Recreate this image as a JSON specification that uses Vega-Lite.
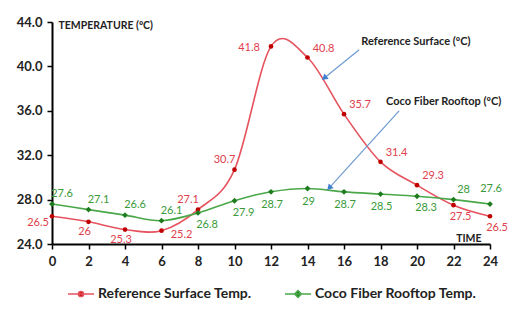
{
  "$schema": "https://vega.github.io/schema/vega-lite/v6.json",
  "width": 438,
  "height": 222,
  "autosize": {"type": "none"},
  "padding": {"left": 52, "top": 22, "right": 18, "bottom": 69},
  "background": "white",
  "config": {
    "view": {"stroke": null},
    "font": "Lato",
    "axis": {"grid": false, "domainColor": "#000", "domainWidth": 2, "tickColor": "#000", "tickWidth": 1.5, "tickSize": 5,
             "labelFont": "Lato", "labelFontWeight": "bold", "labelFontSize": 13, "labelColor": "#222",
             "titleFont": "Lato", "titleFontWeight": "bold", "titleFontSize": 10.5, "titleColor": "#222"}
  },
  "datasets": {
    "temps": [
      {"hour": 0, "series": "Reference Surface Temp.", "temp": 26.5},
      {"hour": 2, "series": "Reference Surface Temp.", "temp": 26},
      {"hour": 4, "series": "Reference Surface Temp.", "temp": 25.3},
      {"hour": 6, "series": "Reference Surface Temp.", "temp": 25.2},
      {"hour": 8, "series": "Reference Surface Temp.", "temp": 27.1},
      {"hour": 10, "series": "Reference Surface Temp.", "temp": 30.7},
      {"hour": 12, "series": "Reference Surface Temp.", "temp": 41.8},
      {"hour": 14, "series": "Reference Surface Temp.", "temp": 40.8},
      {"hour": 16, "series": "Reference Surface Temp.", "temp": 35.7},
      {"hour": 18, "series": "Reference Surface Temp.", "temp": 31.4},
      {"hour": 20, "series": "Reference Surface Temp.", "temp": 29.3},
      {"hour": 22, "series": "Reference Surface Temp.", "temp": 27.5},
      {"hour": 24, "series": "Reference Surface Temp.", "temp": 26.5},
      {"hour": 0, "series": "Coco Fiber Rooftop Temp.", "temp": 27.6},
      {"hour": 2, "series": "Coco Fiber Rooftop Temp.", "temp": 27.1},
      {"hour": 4, "series": "Coco Fiber Rooftop Temp.", "temp": 26.6},
      {"hour": 6, "series": "Coco Fiber Rooftop Temp.", "temp": 26.1},
      {"hour": 8, "series": "Coco Fiber Rooftop Temp.", "temp": 26.8},
      {"hour": 10, "series": "Coco Fiber Rooftop Temp.", "temp": 27.9},
      {"hour": 12, "series": "Coco Fiber Rooftop Temp.", "temp": 28.7},
      {"hour": 14, "series": "Coco Fiber Rooftop Temp.", "temp": 29},
      {"hour": 16, "series": "Coco Fiber Rooftop Temp.", "temp": 28.7},
      {"hour": 18, "series": "Coco Fiber Rooftop Temp.", "temp": 28.5},
      {"hour": 20, "series": "Coco Fiber Rooftop Temp.", "temp": 28.3},
      {"hour": 22, "series": "Coco Fiber Rooftop Temp.", "temp": 28},
      {"hour": 24, "series": "Coco Fiber Rooftop Temp.", "temp": 27.6}
    ],
    "notes": [
      {"note": "Reference Surface (ºC)", "hour": 16.95, "temp": 42.2},
      {"note": "Coco Fiber Rooftop (ºC)", "hour": 18.3, "temp": 36.8}
    ],
    "arrows": [
      {"name": "ref", "hour": 16.83, "temp": 41.5, "hour2": 14.92, "temp2": 38.95},
      {"name": "coco", "hour": 19.02, "temp": 36.0, "hour2": 15.19, "temp2": 29.05}
    ],
    "heads": [
      {"name": "ref", "hour": 14.92, "temp": 38.95},
      {"name": "coco", "hour": 15.19, "temp": 29.05}
    ]
  },
  "encoding": {
    "x": {"field": "hour", "type": "quantitative",
          "scale": {"domain": [0, 24], "nice": false, "zero": false},
          "axis": {"values": [0,2,4,6,8,10,12,14,16,18,20,22,24], "labelOverlap": false, "labelFlush": false, "labelPadding": 6, "title": "TIME",
                   "titleAlign": "right", "titleBaseline": "alphabetic", "titleX": 429, "titleY": -3, "titleAnchor": null}},
    "y": {"field": "temp", "type": "quantitative",
          "scale": {"domain": [24, 44], "nice": false, "zero": false},
          "axis": {"values": [24,28,32,36,40,44], "format": ".1f", "labelOverlap": false, "labelFlush": false, "labelPadding": 5, "title": "TEMPERATURE (ºC)",
                   "titleAngle": 0, "titleAlign": "left", "titleBaseline": "middle", "titleX": 6, "titleY": 3, "titleAnchor": null}}
  },
  "layer": [
    {
      "data": {"name": "temps"},
      "mark": {"type": "line", "interpolate": "cardinal", "strokeWidth": 1.6},
      "encoding": {
        "color": {"field": "series", "type": "nominal",
                  "scale": {"domain": ["Reference Surface Temp.", "Coco Fiber Rooftop Temp."], "range": ["#e5535f", "#4aa84a"]},
                  "legend": {"orient": "none", "legendX": 15, "legendY": 258, "direction": "horizontal", "title": null,
                             "symbolSize": 676, "labelFont": "Lato", "labelFontWeight": "bold", "labelFontSize": 14,
                             "labelColor": "#222", "labelLimit": 300, "labelOffset": 3, "columnPadding": 30,
                             "symbolStrokeWidth": 1.5,
                             "encode": {"symbols": {"update": {
                               "shape": {"signal": "datum.value === 'Reference Surface Temp.' ? 'M-1,0L1,0M-0.2,0A0.2,0.2,0,1,0,0.2,0A0.2,0.2,0,1,0,-0.2,0Z' : 'M-1,0L1,0M0,-0.26L0.26,0L0,0.26L-0.26,0Z'"},
                               "fill": {"signal": "datum.value === 'Reference Surface Temp.' ? '#c00000' : '#1e7b1e'"},
                               "fillOpacity": {"value": 1},
                               "strokeWidth": {"value": 1.5}}}}}}
      }
    },
    {
      "data": {"name": "temps"},
      "transform": [{"filter": {"field": "series", "equal": "Reference Surface Temp."}}],
      "mark": {"type": "point", "shape": "circle", "filled": true, "size": 22, "color": "#c00000", "opacity": 1}
    },
    {
      "data": {"name": "temps"},
      "transform": [{"filter": {"field": "series", "equal": "Coco Fiber Rooftop Temp."}}],
      "mark": {"type": "point", "shape": "diamond", "filled": true, "size": 34, "color": "#1e7b1e", "opacity": 1}
    },
    {
      "data": {"name": "temps"},
      "transform": [{"filter": {"field": "series", "equal": "Reference Surface Temp."}}, {"filter": {"field": "hour", "oneOf": [0]}}],
      "mark": {"type": "text", "dx": -14, "dy": 7, "color": "#e0404c", "fontSize": 11},
      "encoding": {"text": {"field": "temp"}}
    },
    {
      "data": {"name": "temps"},
      "transform": [{"filter": {"field": "series", "equal": "Reference Surface Temp."}}, {"filter": {"field": "hour", "oneOf": [2, 4]}}],
      "mark": {"type": "text", "dx": -4, "dy": 10, "color": "#e0404c", "fontSize": 11},
      "encoding": {"text": {"field": "temp"}}
    },
    {
      "data": {"name": "temps"},
      "transform": [{"filter": {"field": "series", "equal": "Reference Surface Temp."}}, {"filter": {"field": "hour", "oneOf": [6]}}],
      "mark": {"type": "text", "dx": 20, "dy": 4, "color": "#e0404c", "fontSize": 11},
      "encoding": {"text": {"field": "temp"}}
    },
    {
      "data": {"name": "temps"},
      "transform": [{"filter": {"field": "series", "equal": "Reference Surface Temp."}}, {"filter": {"field": "hour", "oneOf": [8, 10]}}],
      "mark": {"type": "text", "dx": -10, "dy": -10, "color": "#e0404c", "fontSize": 11},
      "encoding": {"text": {"field": "temp"}}
    },
    {
      "data": {"name": "temps"},
      "transform": [{"filter": {"field": "series", "equal": "Reference Surface Temp."}}, {"filter": {"field": "hour", "oneOf": [12]}}],
      "mark": {"type": "text", "dx": -22, "dy": 2, "color": "#e0404c", "fontSize": 11},
      "encoding": {"text": {"field": "temp"}}
    },
    {
      "data": {"name": "temps"},
      "transform": [{"filter": {"field": "series", "equal": "Reference Surface Temp."}}, {"filter": {"field": "hour", "oneOf": [14, 16, 18, 20]}}],
      "mark": {"type": "text", "dx": 16, "dy": -9, "color": "#e0404c", "fontSize": 11},
      "encoding": {"text": {"field": "temp"}}
    },
    {
      "data": {"name": "temps"},
      "transform": [{"filter": {"field": "series", "equal": "Reference Surface Temp."}}, {"filter": {"field": "hour", "oneOf": [22, 24]}}],
      "mark": {"type": "text", "dx": 7, "dy": 12, "color": "#e0404c", "fontSize": 11},
      "encoding": {"text": {"field": "temp"}}
    },
    {
      "data": {"name": "temps"},
      "transform": [{"filter": {"field": "series", "equal": "Coco Fiber Rooftop Temp."}}, {"filter": {"field": "hour", "oneOf": [0, 2, 4, 6, 22]}}],
      "mark": {"type": "text", "dx": 10, "dy": -10, "color": "#3a9a3a", "fontSize": 11},
      "encoding": {"text": {"field": "temp"}}
    },
    {
      "data": {"name": "temps"},
      "transform": [{"filter": {"field": "series", "equal": "Coco Fiber Rooftop Temp."}}, {"filter": {"field": "hour", "oneOf": [8, 10, 20]}}],
      "mark": {"type": "text", "dx": 9, "dy": 12, "color": "#3a9a3a", "fontSize": 11},
      "encoding": {"text": {"field": "temp"}}
    },
    {
      "data": {"name": "temps"},
      "transform": [{"filter": {"field": "series", "equal": "Coco Fiber Rooftop Temp."}}, {"filter": {"field": "hour", "oneOf": [12, 14, 16, 18]}}],
      "mark": {"type": "text", "dx": 1, "dy": 13, "color": "#3a9a3a", "fontSize": 11},
      "encoding": {"text": {"field": "temp"}}
    },
    {
      "data": {"name": "temps"},
      "transform": [{"filter": {"field": "series", "equal": "Coco Fiber Rooftop Temp."}}, {"filter": {"field": "hour", "oneOf": [24]}}],
      "mark": {"type": "text", "dx": 1, "dy": -15, "color": "#3a9a3a", "fontSize": 11},
      "encoding": {"text": {"field": "temp"}}
    },
    {
      "data": {"name": "notes"},
      "mark": {"type": "text", "align": "left", "baseline": "middle", "color": "#222", "fontSize": 11, "fontWeight": "bold"},
      "encoding": {"text": {"field": "note"}}
    },
    {
      "data": {"name": "arrows"},
      "mark": {"type": "rule", "color": "#6f9bd0", "strokeWidth": 1.2},
      "encoding": {"x2": {"field": "hour2"}, "y2": {"field": "temp2"}}
    },
    {
      "data": {"name": "heads"},
      "transform": [{"filter": {"field": "name", "equal": "ref"}}],
      "mark": {"type": "point", "shape": "triangle-up", "filled": true, "size": 45, "color": "#3f7fd0", "opacity": 1, "angle": 231}
    },
    {
      "data": {"name": "heads"},
      "transform": [{"filter": {"field": "name", "equal": "coco"}}],
      "mark": {"type": "point", "shape": "triangle-up", "filled": true, "size": 45, "color": "#3f7fd0", "opacity": 1, "angle": 223}
    }
  ]
}
